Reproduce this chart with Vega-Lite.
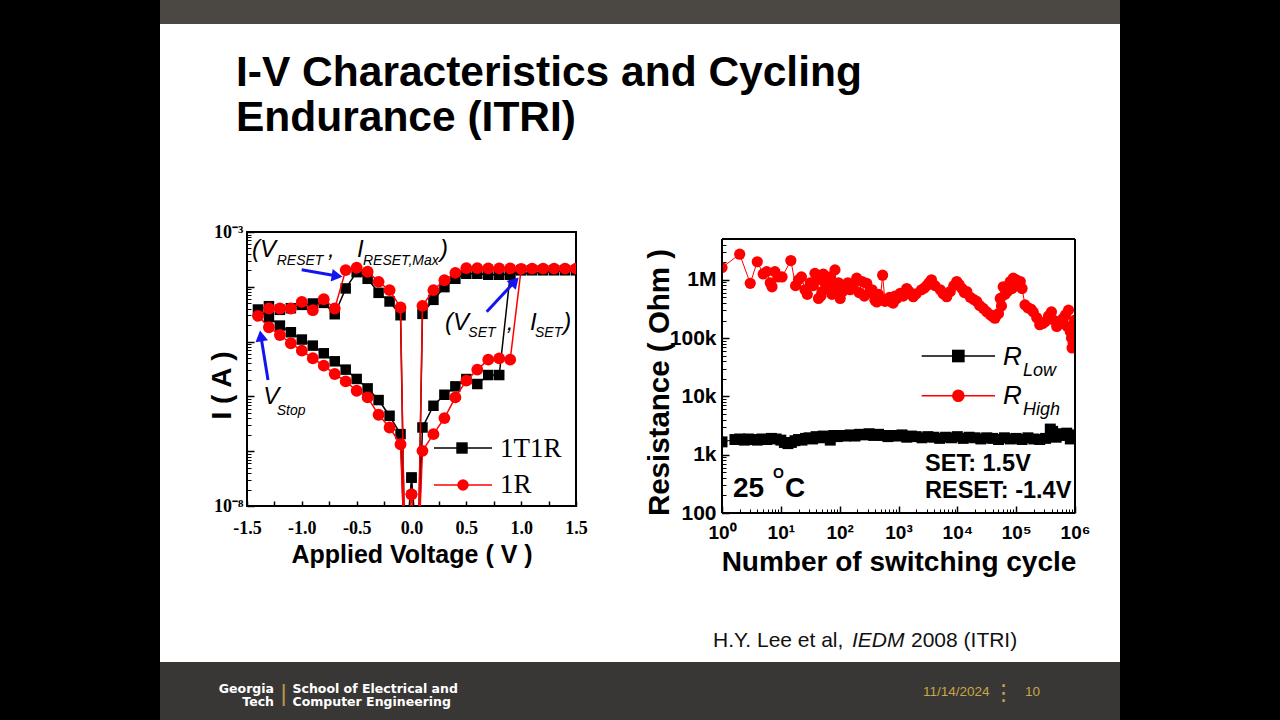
{
  "$schema": "https://vega.github.io/schema/vega-lite/v6.json",
  "padding": 0,
  "background": "#ffffff",
  "columns": 7,
  "align": "each",
  "bounds": "flush",
  "spacing": 0,
  "resolve": {"scale": {"color": "independent", "shape": "independent"}},
  "data": {"values": [{}]},
  "config": {
    "view": {"stroke": null},
    "axis": {"grid": false, "domain": false, "labelColor": "#000000", "titleColor": "#000000", "tickColor": "#000000", "labelFont": "Liberation Sans", "titleFont": "Liberation Sans"},
    "text": {"font": "Liberation Sans"}
  },
  "datasets": {
    "ivT": [
      {"seq": 1, "V": 0, "I": 3.296e-8}, {"seq": 2, "V": 0.06, "I": 1e-9}, {"seq": 3, "V": 0.1, "I": 2.71e-7},
      {"seq": 4, "V": 0.2, "I": 6.745e-7}, {"seq": 5, "V": 0.3, "I": 1.072e-6}, {"seq": 6, "V": 0.4, "I": 1.524e-6},
      {"seq": 7, "V": 0.5, "I": 2.075e-6}, {"seq": 8, "V": 0.6, "I": 1.683e-6}, {"seq": 9, "V": 0.7, "I": 2.455e-6},
      {"seq": 10, "V": 0.8, "I": 2.455e-6}, {"seq": 11, "V": 0.9, "I": 1.66e-4}, {"seq": 12, "V": 1.0, "I": 1.995e-4},
      {"seq": 13, "V": 1.1, "I": 2.0e-4}, {"seq": 14, "V": 1.2, "I": 2.0e-4}, {"seq": 15, "V": 1.3, "I": 2.0e-4},
      {"seq": 16, "V": 1.4, "I": 2.0e-4}, {"seq": 17, "V": 1.5, "I": 2.0e-4},
      {"seq": 18, "V": 0.9, "I": 1.7e-4}, {"seq": 19, "V": 0.8, "I": 1.66e-4}, {"seq": 20, "V": 0.7, "I": 1.66e-4},
      {"seq": 21, "V": 0.6, "I": 1.73e-4}, {"seq": 22, "V": 0.5, "I": 1.73e-4}, {"seq": 23, "V": 0.4, "I": 1.4e-4},
      {"seq": 24, "V": 0.3, "I": 9.86e-5}, {"seq": 25, "V": 0.2, "I": 5.78e-5}, {"seq": 26, "V": 0.1, "I": 3.21e-5},
      {"seq": 27, "V": 0.06, "I": 1e-9}, {"seq": 28, "V": -0.06, "I": 1e-9}, {"seq": 29, "V": -0.1, "I": 3.03e-5},
      {"seq": 30, "V": -0.2, "I": 5.4e-5}, {"seq": 31, "V": -0.3, "I": 7.76e-5}, {"seq": 32, "V": -0.4, "I": 1.4e-4},
      {"seq": 33, "V": -0.5, "I": 1.85e-4}, {"seq": 34, "V": -0.6, "I": 9.33e-5}, {"seq": 35, "V": -0.7, "I": 3.16e-5},
      {"seq": 36, "V": -0.8, "I": 5.09e-5}, {"seq": 37, "V": -0.9, "I": 4.96e-5}, {"seq": 38, "V": -1.0, "I": 4.68e-5},
      {"seq": 39, "V": -1.1, "I": 4.07e-5}, {"seq": 40, "V": -1.2, "I": 3.8e-5}, {"seq": 41, "V": -1.3, "I": 4.43e-5},
      {"seq": 42, "V": -1.4, "I": 3.85e-5}, {"seq": 43, "V": -1.3, "I": 2.79e-5}, {"seq": 44, "V": -1.2, "I": 1.96e-5},
      {"seq": 45, "V": -1.1, "I": 1.48e-5}, {"seq": 46, "V": -1.0, "I": 1.09e-5}, {"seq": 47, "V": -0.9, "I": 8.45e-6},
      {"seq": 48, "V": -0.8, "I": 6.12e-6}, {"seq": 49, "V": -0.7, "I": 4.37e-6}, {"seq": 50, "V": -0.6, "I": 3.08e-6},
      {"seq": 51, "V": -0.5, "I": 2.08e-6}, {"seq": 52, "V": -0.4, "I": 1.4e-6}, {"seq": 53, "V": -0.3, "I": 8.57e-7},
      {"seq": 54, "V": -0.2, "I": 4.43e-7}, {"seq": 55, "V": -0.1, "I": 2.05e-7}, {"seq": 56, "V": -0.06, "I": 1e-9},
      {"seq": 57, "V": 0, "I": 3.296e-8}
    ],
    "ivR": [
      {"seq": 1, "V": 0, "I": 1.633e-8}, {"seq": 2, "V": 0.06, "I": 1e-9}, {"seq": 3, "V": 0.1, "I": 1.014e-7},
      {"seq": 4, "V": 0.2, "I": 2.046e-7}, {"seq": 5, "V": 0.3, "I": 4.018e-7}, {"seq": 6, "V": 0.4, "I": 9.59e-7},
      {"seq": 7, "V": 0.5, "I": 1.936e-6}, {"seq": 8, "V": 0.6, "I": 3.076e-6}, {"seq": 9, "V": 0.7, "I": 4.688e-6},
      {"seq": 10, "V": 0.8, "I": 4.955e-6}, {"seq": 11, "V": 0.9, "I": 4.688e-6}, {"seq": 12, "V": 1.0, "I": 2.13e-4},
      {"seq": 13, "V": 1.1, "I": 2.15e-4}, {"seq": 14, "V": 1.2, "I": 2.15e-4}, {"seq": 15, "V": 1.3, "I": 2.15e-4},
      {"seq": 16, "V": 1.4, "I": 2.15e-4}, {"seq": 17, "V": 1.5, "I": 2.15e-4},
      {"seq": 18, "V": 0.9, "I": 2.17e-4}, {"seq": 19, "V": 0.8, "I": 2.17e-4}, {"seq": 20, "V": 0.7, "I": 2.17e-4},
      {"seq": 21, "V": 0.6, "I": 2.19e-4}, {"seq": 22, "V": 0.5, "I": 2.19e-4}, {"seq": 23, "V": 0.4, "I": 1.8e-4},
      {"seq": 24, "V": 0.3, "I": 1.32e-4}, {"seq": 25, "V": 0.2, "I": 8.69e-5}, {"seq": 26, "V": 0.1, "I": 4.49e-5},
      {"seq": 27, "V": 0.06, "I": 1e-9}, {"seq": 28, "V": -0.06, "I": 1e-9}, {"seq": 29, "V": -0.1, "I": 4.19e-5},
      {"seq": 30, "V": -0.2, "I": 8.69e-5}, {"seq": 31, "V": -0.3, "I": 1.23e-4}, {"seq": 32, "V": -0.4, "I": 1.88e-4},
      {"seq": 33, "V": -0.5, "I": 2.23e-4}, {"seq": 34, "V": -0.6, "I": 2.02e-4}, {"seq": 35, "V": -0.7, "I": 4.02e-5},
      {"seq": 36, "V": -0.8, "I": 5.94e-5}, {"seq": 37, "V": -0.9, "I": 3.74e-5}, {"seq": 38, "V": -1.0, "I": 5.32e-5},
      {"seq": 39, "V": -1.1, "I": 4.02e-5}, {"seq": 40, "V": -1.2, "I": 4.02e-5}, {"seq": 41, "V": -1.3, "I": 4.02e-5},
      {"seq": 42, "V": -1.4, "I": 2.95e-5}, {"seq": 43, "V": -1.3, "I": 1.83e-5}, {"seq": 44, "V": -1.2, "I": 1.32e-5},
      {"seq": 45, "V": -1.1, "I": 9.33e-6}, {"seq": 46, "V": -1.0, "I": 6.84e-6}, {"seq": 47, "V": -0.9, "I": 4.96e-6},
      {"seq": 48, "V": -0.8, "I": 3.64e-6}, {"seq": 49, "V": -0.7, "I": 2.56e-6}, {"seq": 50, "V": -0.6, "I": 1.88e-6},
      {"seq": 51, "V": -0.5, "I": 1.27e-6}, {"seq": 52, "V": -0.4, "I": 9.59e-7}, {"seq": 53, "V": -0.3, "I": 4.62e-7},
      {"seq": 54, "V": -0.2, "I": 2.71e-7}, {"seq": 55, "V": -0.1, "I": 1.34e-7}, {"seq": 56, "V": -0.06, "I": 1e-9},
      {"seq": 57, "V": 0, "I": 1.633e-8}
    ],
    "ivLeg": [
      {"k": "1T1R", "V1": 0.2052, "V2": 0.7341, "Vm": 0.4605, "I": 1.144e-7, "Vt": 0.807, "It": 7.93e-8},
      {"k": "1R", "V1": 0.2052, "V2": 0.7341, "Vm": 0.4696, "I": 2.416e-8, "Vt": 0.807, "It": 1.705e-8}
    ],
    "ivAnnMain": [
      {"t": "(V", "V": -1.4544, "I": 3.499e-4}, {"t": ",", "V": -0.7614, "I": 3.499e-4},
      {"t": "I", "V": -0.497, "I": 3.499e-4}, {"t": ")", "V": 0.2599, "I": 3.499e-4},
      {"t": "(V", "V": 0.3055, "I": 1.628e-5}, {"t": ",", "V": 0.8681, "I": 1.628e-5},
      {"t": "I", "V": 1.0805, "I": 1.628e-5}, {"t": ")", "V": 1.3842, "I": 1.628e-5},
      {"t": "V", "V": -1.3514, "I": 7.165e-7}
    ],
    "ivAnnSub": [
      {"t": "RESET", "V": -1.2292, "I": 2.499e-4}, {"t": "RESET,Max", "V": -0.4423, "I": 2.499e-4},
      {"t": "SET", "V": 0.518, "I": 1.229e-5}, {"t": "SET", "V": 1.1261, "I": 1.229e-5},
      {"t": "Stop", "V": -1.2292, "I": 4.578e-7}
    ],
    "ivArrow": [
      {"id": "reset", "V1": -1.0012, "I1": 2.051e-4, "V2": -0.6784, "I2": 1.575e-4},
      {"id": "set", "V1": 0.6857, "I1": 3.513e-5, "V2": 0.9429, "I2": 1.254e-4},
      {"id": "stop", "V1": -1.3085, "I1": 1.992e-6, "V2": -1.3733, "I2": 1.271e-5}
    ],
    "rHigh": [
      {"c": 1, "r": 1620000}, {"c": 2, "r": 2750000}, {"c": 3.02, "r": 871000}, {"c": 3.98, "r": 2040000},
      {"c": 5.01, "r": 1260000}, {"c": 5.75, "r": 1380000}, {"c": 6.61, "r": 891000}, {"c": 7.08, "r": 759000},
      {"c": 7.94, "r": 1380000}, {"c": 8.91, "r": 1120000}, {"c": 10.5, "r": 1120000}, {"c": 14.8, "r": 2140000},
      {"c": 17.8, "r": 794000}, {"c": 20, "r": 1000000}, {"c": 22.4, "r": 1122000}, {"c": 25.7, "r": 676000},
      {"c": 28.2, "r": 562000}, {"c": 31.6, "r": 891000}, {"c": 35.5, "r": 794000}, {"c": 38, "r": 1290000},
      {"c": 41.7, "r": 1000000}, {"c": 43.7, "r": 479000}, {"c": 47.9, "r": 525000}, {"c": 50.1, "r": 631000},
      {"c": 52.5, "r": 1259000}, {"c": 56.2, "r": 871000}, {"c": 60.3, "r": 708000}, {"c": 69.2, "r": 1120000},
      {"c": 74.1, "r": 562000}, {"c": 79.4, "r": 794000}, {"c": 83.2, "r": 1480000}, {"c": 89.1, "r": 676000},
      {"c": 95.5, "r": 891000}, {"c": 102, "r": 479000}, {"c": 112, "r": 631000}, {"c": 126, "r": 794000},
      {"c": 138, "r": 891000}, {"c": 151, "r": 676000}, {"c": 166, "r": 759000}, {"c": 195, "r": 1070000},
      {"c": 214, "r": 603000}, {"c": 240, "r": 933000}, {"c": 263, "r": 525000}, {"c": 288, "r": 871000},
      {"c": 316, "r": 603000}, {"c": 355, "r": 676000}, {"c": 398, "r": 447000}, {"c": 427, "r": 417000},
      {"c": 457, "r": 562000}, {"c": 490, "r": 479000}, {"c": 537, "r": 1200000}, {"c": 589, "r": 427000},
      {"c": 631, "r": 457000}, {"c": 708, "r": 501000}, {"c": 759, "r": 417000}, {"c": 813, "r": 398000},
      {"c": 871, "r": 525000}, {"c": 933, "r": 479000}, {"c": 1072, "r": 589000}, {"c": 1202, "r": 525000},
      {"c": 1380, "r": 708000}, {"c": 1514, "r": 631000}, {"c": 1778, "r": 513000}, {"c": 1995, "r": 575000},
      {"c": 2455, "r": 676000}, {"c": 2754, "r": 724000}, {"c": 3020, "r": 794000}, {"c": 3311, "r": 891000},
      {"c": 3631, "r": 1000000}, {"c": 4169, "r": 794000}, {"c": 5129, "r": 676000}, {"c": 5754, "r": 575000},
      {"c": 6607, "r": 513000}, {"c": 7586, "r": 631000}, {"c": 8710, "r": 794000}, {"c": 9772, "r": 933000},
      {"c": 10720, "r": 832000}, {"c": 12020, "r": 708000}, {"c": 13180, "r": 603000}, {"c": 14450, "r": 631000},
      {"c": 16600, "r": 501000}, {"c": 19050, "r": 457000}, {"c": 21380, "r": 427000}, {"c": 23990, "r": 363000},
      {"c": 27540, "r": 324000}, {"c": 31620, "r": 282000}, {"c": 36310, "r": 251000}, {"c": 39810, "r": 234000},
      {"c": 43650, "r": 219000}, {"c": 46770, "r": 251000}, {"c": 50120, "r": 263000}, {"c": 53700, "r": 479000},
      {"c": 56230, "r": 355000}, {"c": 60260, "r": 759000}, {"c": 64570, "r": 562000}, {"c": 70790, "r": 631000},
      {"c": 75860, "r": 832000}, {"c": 79430, "r": 933000}, {"c": 85110, "r": 708000}, {"c": 89130, "r": 1070000},
      {"c": 100000, "r": 1000000}, {"c": 117500, "r": 933000}, {"c": 125900, "r": 708000}, {"c": 141300, "r": 372000},
      {"c": 158500, "r": 331000}, {"c": 177800, "r": 316000}, {"c": 195000, "r": 282000}, {"c": 223900, "r": 224000},
      {"c": 251200, "r": 170000}, {"c": 281800, "r": 178000}, {"c": 309000, "r": 191000}, {"c": 354800, "r": 240000},
      {"c": 398100, "r": 282000}, {"c": 446700, "r": 200000}, {"c": 489800, "r": 158000}, {"c": 562300, "r": 178000},
      {"c": 631000, "r": 219000}, {"c": 691800, "r": 251000}, {"c": 741300, "r": 158000}, {"c": 776200, "r": 302000},
      {"c": 831800, "r": 129000}, {"c": 871000, "r": 100000}, {"c": 891300, "r": 67600}, {"c": 933300, "r": 81300},
      {"c": 955000, "r": 158000}, {"c": 1000000, "r": 204000}
    ],
    "rLow": [
      {"c": 1, "r": 1660}, {"c": 1.66, "r": 1820}, {"c": 2.0, "r": 1862}, {"c": 2.4, "r": 1778}, {"c": 2.82, "r": 1862},
      {"c": 3.31, "r": 1820}, {"c": 3.98, "r": 1778}, {"c": 4.79, "r": 1862}, {"c": 5.75, "r": 1820}, {"c": 6.92, "r": 1905},
      {"c": 8.32, "r": 1862}, {"c": 10, "r": 1778}, {"c": 11.5, "r": 1622}, {"c": 13.2, "r": 1549}, {"c": 15.1, "r": 1622},
      {"c": 17.4, "r": 1738}, {"c": 20, "r": 1820}, {"c": 22.9, "r": 1778}, {"c": 26.3, "r": 1905}, {"c": 30.2, "r": 1950},
      {"c": 34.7, "r": 1862}, {"c": 39.8, "r": 2042}, {"c": 45.7, "r": 1950}, {"c": 52.5, "r": 2089}, {"c": 60.3, "r": 1995},
      {"c": 69.2, "r": 1778}, {"c": 79.4, "r": 2138}, {"c": 91.2, "r": 2042}, {"c": 105, "r": 2138}, {"c": 126, "r": 2089},
      {"c": 151, "r": 2188}, {"c": 182, "r": 2089}, {"c": 219, "r": 2239}, {"c": 263, "r": 2188}, {"c": 316, "r": 2291},
      {"c": 380, "r": 2138}, {"c": 457, "r": 2239}, {"c": 550, "r": 2138}, {"c": 661, "r": 2042}, {"c": 794, "r": 2138},
      {"c": 955, "r": 2089}, {"c": 1148, "r": 2188}, {"c": 1380, "r": 1995}, {"c": 1660, "r": 2089}, {"c": 1995, "r": 2042},
      {"c": 2512, "r": 1950}, {"c": 3162, "r": 2042}, {"c": 3981, "r": 1995}, {"c": 5012, "r": 1905}, {"c": 6310, "r": 1995},
      {"c": 7943, "r": 1950}, {"c": 10000, "r": 2042}, {"c": 12590, "r": 1905}, {"c": 15850, "r": 1995}, {"c": 19950, "r": 1950},
      {"c": 25120, "r": 1862}, {"c": 31620, "r": 1950}, {"c": 39810, "r": 1905}, {"c": 50120, "r": 1820}, {"c": 63100, "r": 1950},
      {"c": 79430, "r": 1862}, {"c": 100000, "r": 1905}, {"c": 125900, "r": 1820}, {"c": 158500, "r": 1950}, {"c": 199500, "r": 1862},
      {"c": 251200, "r": 1820}, {"c": 316200, "r": 1905}, {"c": 380200, "r": 2754}, {"c": 416900, "r": 2512}, {"c": 478600, "r": 1995},
      {"c": 549500, "r": 2291}, {"c": 631000, "r": 2138}, {"c": 724400, "r": 2344}, {"c": 831800, "r": 1862}, {"c": 933300, "r": 2188},
      {"c": 1000000, "r": 1995}
    ],
    "rLeg": [
      {"k": "Low", "c1": 2477, "c2": 43750, "cm": 10400, "r": 49320, "ct": 59700, "rt": 34600, "cs": 130900, "rs": 22650},
      {"k": "High", "c1": 2477, "c2": 43750, "cm": 10400, "r": 10280, "ct": 59700, "rt": 7413, "cs": 130900, "rs": 4797}
    ],
    "rAnnBig": [{"t": "25", "c": 1.538, "r": 190.5}, {"t": "C", "c": 11.78, "r": 190.5}],
    "rAnnSup": [{"t": "O", "c": 7.36, "r": 398}],
    "rAnnMid": [{"t": "SET: 1.5V", "c": 2825, "r": 532}, {"t": "RESET: -1.4V", "c": 2825, "r": 178.6}]
  },
  "concat": [
    {"width": 160, "height": 24, "view": {"fill": "#000000", "stroke": null}, "mark": {"type": "point", "opacity": 0}},
    {"width": 87, "height": 24, "view": {"fill": "#4b4743", "stroke": null}, "mark": {"type": "point", "opacity": 0}},
    {"width": 329, "height": 24, "view": {"fill": "#4b4743", "stroke": null}, "mark": {"type": "point", "opacity": 0}},
    {"width": 146, "height": 24, "view": {"fill": "#4b4743", "stroke": null}, "mark": {"type": "point", "opacity": 0}},
    {"width": 353, "height": 24, "view": {"fill": "#4b4743", "stroke": null}, "mark": {"type": "point", "opacity": 0}},
    {"width": 45, "height": 24, "view": {"fill": "#4b4743", "stroke": null}, "mark": {"type": "point", "opacity": 0}},
    {"width": 160, "height": 24, "view": {"fill": "#000000", "stroke": null}, "mark": {"type": "point", "opacity": 0}},

    {"width": 160, "height": 208, "view": {"fill": "#000000", "stroke": null}, "mark": {"type": "point", "opacity": 0}},
    {"width": 87, "height": 208, "mark": {"type": "text", "text": ["I-V Characteristics and Cycling", "Endurance (ITRI)"], "align": "left", "baseline": "alphabetic", "dx": 32.5, "dy": -42, "font": "Liberation Sans", "fontWeight": "bold", "fontSize": 42.5, "lineHeight": 45, "color": "#000000"}},
    {"width": 329, "height": 208, "mark": {"type": "point", "opacity": 0}},
    {"width": 146, "height": 208, "mark": {"type": "point", "opacity": 0}},
    {"width": 353, "height": 208, "mark": {"type": "point", "opacity": 0}},
    {"width": 45, "height": 208, "mark": {"type": "point", "opacity": 0}},
    {"width": 160, "height": 208, "view": {"fill": "#000000", "stroke": null}, "mark": {"type": "point", "opacity": 0}},

    {"width": 160, "height": 281, "view": {"fill": "#000000", "stroke": null}, "mark": {"type": "point", "opacity": 0}},
    {"width": 87, "height": 281, "mark": {"type": "point", "opacity": 0}},
    {
      "width": 329, "height": 274,
      "view": {"stroke": "#000000", "strokeWidth": 2},
      "resolve": {"axis": {"x": "independent", "y": "independent"}},
      "layer": [
        {
          "data": {"name": "ivT"},
          "mark": {"type": "line", "color": "#000000", "strokeWidth": 1.5, "clip": true},
          "encoding": {
            "x": {"field": "V", "type": "quantitative", "scale": {"domain": [-1.5, 1.5], "nice": false, "zero": false},
              "axis": {"orient": "bottom", "values": [-1.5, -1, -0.5, 0, 0.5, 1, 1.5], "labelExpr": "datum.value < 0 ? '-' + format(-datum.value, '.1f') : format(datum.value, '.1f')",
                "ticks": false, "tickSize": 0, "domain": false, "grid": false, "labelFont": "Liberation Serif", "labelFontWeight": "bold", "labelFontSize": 18,
                "labelPadding": 13, "labelFlush": false, "labelOverlap": false,
                "title": "Applied Voltage ( V )", "titleFontSize": 25, "titleFontWeight": "bold", "titleY": 56, "titleBaseline": "alphabetic"}},
            "y": {"field": "I", "type": "quantitative", "scale": {"type": "log", "domain": [1e-8, 0.001], "nice": false},
              "axis": {"orient": "left", "values": [1e-8, 0.001], "labelExpr": "datum.value > 1e-5 ? '10⁻³' : '10⁻⁸'",
                "ticks": false, "tickSize": 0, "domain": false, "grid": false, "labelFont": "Liberation Serif", "labelFontWeight": "bold", "labelFontSize": 18,
                "labelPadding": 4, "labelBaseline": "middle", "labelFlush": false, "labelOverlap": false,
                "title": "I ( A )", "titleFontSize": 28, "titleFontWeight": "bold", "titleX": -17, "titleY": 153, "titleBaseline": "alphabetic", "titleAngle": 270}},
            "order": {"field": "seq", "type": "quantitative"}
          }
        },
        {
          "data": {"name": "ivT"},
          "mark": {"type": "point", "shape": "square", "filled": true, "color": "#000000", "size": 110, "opacity": 1, "clip": true},
          "encoding": {
            "x": {"field": "V", "type": "quantitative",
              "axis": {"orient": "bottom", "values": [-1.5, -1.25, -1, -0.75, -0.5, -0.25, 0, 0.25, 0.5, 0.75, 1, 1.25, 1.5], "labels": false, "domain": false, "grid": false, "ticks": true, "tickSize": -5, "tickWidth": 1.5, "title": null}},
            "y": {"field": "I", "type": "quantitative",
              "axis": {"orient": "left", "values": [1e-8, 1e-7, 1e-6, 1e-5, 0.0001, 0.001], "labels": false, "domain": false, "grid": false, "ticks": true, "tickSize": -7, "tickWidth": 1.5, "title": null}}
          }
        },
        {
          "data": {"name": "ivR"},
          "mark": {"type": "line", "color": "#ff0000", "strokeWidth": 1.5, "clip": true},
          "encoding": {
            "x": {"field": "V", "type": "quantitative", "axis": null},
            "y": {"field": "I", "type": "quantitative",
              "axis": {"orient": "left", "values": [2e-8, 3e-8, 4e-8, 5e-8, 6e-8, 7e-8, 8e-8, 9e-8, 2e-7, 3e-7, 4e-7, 5e-7, 6e-7, 7e-7, 8e-7, 9e-7, 2e-6, 3e-6, 4e-6, 5e-6, 6e-6, 7e-6, 8e-6, 9e-6, 2e-5, 3e-5, 4e-5, 5e-5, 6e-5, 7e-5, 8e-5, 9e-5, 0.0002, 0.0003, 0.0004, 0.0005, 0.0006, 0.0007, 0.0008, 0.0009],
                "labels": false, "domain": false, "grid": false, "ticks": true, "tickSize": -4, "tickWidth": 1, "title": null}},
            "order": {"field": "seq", "type": "quantitative"}
          }
        },
        {
          "data": {"name": "ivR"},
          "mark": {"type": "point", "shape": "circle", "filled": true, "color": "#ff0000", "size": 140, "opacity": 1, "clip": true},
          "encoding": {
            "x": {"field": "V", "type": "quantitative", "axis": null},
            "y": {"field": "I", "type": "quantitative", "axis": null}
          }
        },
        {
          "data": {"name": "ivLeg"},
          "mark": {"type": "rule", "strokeWidth": 1.5},
          "encoding": {
            "x": {"field": "V1", "type": "quantitative", "axis": null},
            "x2": {"field": "V2"},
            "y": {"field": "I", "type": "quantitative", "axis": null},
            "color": {"field": "k", "type": "nominal", "scale": {"domain": ["1T1R", "1R"], "range": ["#000000", "#ff0000"]}, "legend": null}
          }
        },
        {
          "data": {"name": "ivLeg"},
          "mark": {"type": "point", "filled": true, "opacity": 1, "size": 130},
          "encoding": {
            "x": {"field": "Vm", "type": "quantitative", "axis": null},
            "y": {"field": "I", "type": "quantitative", "axis": null},
            "color": {"field": "k", "type": "nominal", "scale": {"domain": ["1T1R", "1R"], "range": ["#000000", "#ff0000"]}, "legend": null},
            "shape": {"field": "k", "type": "nominal", "scale": {"domain": ["1T1R", "1R"], "range": ["square", "circle"]}, "legend": null}
          }
        },
        {
          "data": {"name": "ivLeg"},
          "mark": {"type": "text", "align": "left", "baseline": "alphabetic", "font": "Liberation Serif", "fontSize": 27, "color": "#000000"},
          "encoding": {
            "x": {"field": "Vt", "type": "quantitative", "axis": null},
            "y": {"field": "It", "type": "quantitative", "axis": null},
            "text": {"field": "k"}
          }
        },
        {
          "data": {"name": "ivAnnMain"},
          "mark": {"type": "text", "align": "left", "baseline": "alphabetic", "font": "Liberation Sans", "fontStyle": "italic", "fontSize": 24, "color": "#000000"},
          "encoding": {
            "x": {"field": "V", "type": "quantitative", "axis": null},
            "y": {"field": "I", "type": "quantitative", "axis": null},
            "text": {"field": "t"}
          }
        },
        {
          "data": {"name": "ivAnnSub"},
          "mark": {"type": "text", "align": "left", "baseline": "alphabetic", "font": "Liberation Sans", "fontStyle": "italic", "fontSize": 14, "color": "#000000"},
          "encoding": {
            "x": {"field": "V", "type": "quantitative", "axis": null},
            "y": {"field": "I", "type": "quantitative", "axis": null},
            "text": {"field": "t"}
          }
        },
        {
          "data": {"name": "ivArrow"},
          "mark": {"type": "rule", "color": "#1414f0", "strokeWidth": 3},
          "encoding": {
            "x": {"field": "V1", "type": "quantitative", "axis": null},
            "y": {"field": "I1", "type": "quantitative", "axis": null},
            "x2": {"field": "V2"},
            "y2": {"field": "I2"}
          }
        },
        {
          "data": {"name": "ivArrow"},
          "transform": [{"filter": "datum.id == 'reset'"}],
          "mark": {"type": "point", "shape": "triangle-up", "filled": true, "color": "#1414f0", "size": 160, "opacity": 1, "angle": 99},
          "encoding": {
            "x": {"field": "V2", "type": "quantitative", "axis": null},
            "y": {"field": "I2", "type": "quantitative", "axis": null}
          }
        },
        {
          "data": {"name": "ivArrow"},
          "transform": [{"filter": "datum.id == 'set'"}],
          "mark": {"type": "point", "shape": "triangle-up", "filled": true, "color": "#1414f0", "size": 160, "opacity": 1, "angle": 43},
          "encoding": {
            "x": {"field": "V2", "type": "quantitative", "axis": null},
            "y": {"field": "I2", "type": "quantitative", "axis": null}
          }
        },
        {
          "data": {"name": "ivArrow"},
          "transform": [{"filter": "datum.id == 'stop'"}],
          "mark": {"type": "point", "shape": "triangle-up", "filled": true, "color": "#1414f0", "size": 160, "opacity": 1, "angle": 351},
          "encoding": {
            "x": {"field": "V2", "type": "quantitative", "axis": null},
            "y": {"field": "I2", "type": "quantitative", "axis": null}
          }
        }
      ]
    },
    {"width": 146, "height": 281, "mark": {"type": "point", "opacity": 0}},
    {
      "width": 353, "height": 281,
      "view": {"stroke": null},
      "resolve": {"axis": {"x": "independent", "y": "independent"}},
      "layer": [
        {
          "data": {"name": "rLow"},
          "mark": {"type": "line", "color": "#000000", "strokeWidth": 1, "clip": true},
          "encoding": {
            "x": {"field": "c", "type": "quantitative", "scale": {"type": "log", "domain": [1, 1000000], "nice": false},
              "axis": {"orient": "bottom", "values": [1, 10, 100, 1000, 10000, 100000, 1000000], "labelExpr": "'10' + ['⁰','¹','²','³','⁴','⁵','⁶'][round(log(datum.value) / LN10)]",
                "ticks": false, "tickSize": 0, "domain": false, "grid": false, "labelFontWeight": "bold", "labelFontSize": 19, "labelPadding": 10, "labelFlush": false, "labelOverlap": false,
                "title": "Number of switching cycle", "titleFontSize": 28, "titleFontWeight": "bold", "titleY": 57, "titleBaseline": "alphabetic"}},
            "y": {"field": "r", "type": "quantitative", "scale": {"type": "log", "domain": [100, 6610000], "nice": false},
              "axis": {"orient": "left", "values": [100, 1000, 10000, 100000, 1000000], "labelExpr": "datum.value >= 1e6 ? '1M' : (datum.value >= 1000 ? round(datum.value / 1000) + 'k' : '100')",
                "ticks": false, "tickSize": 0, "domain": false, "grid": false, "labelFontWeight": "bold", "labelFontSize": 21, "labelPadding": 6, "labelBaseline": "middle", "labelFlush": false, "labelOverlap": false,
                "title": "Resistance ( Ohm )", "titleFontSize": 29.5, "titleFontWeight": "bold", "titleX": -54, "titleY": 150, "titleBaseline": "alphabetic", "titleAngle": 270}}
          }
        },
        {
          "data": {"name": "rLow"},
          "mark": {"type": "point", "shape": "square", "filled": true, "color": "#000000", "size": 120, "opacity": 1, "clip": true},
          "encoding": {
            "x": {"field": "c", "type": "quantitative",
              "axis": {"orient": "bottom", "values": [1, 10, 100, 1000, 10000, 100000, 1000000], "labels": false, "domain": false, "grid": false, "ticks": true, "tickSize": -7, "tickWidth": 1.5, "title": null}},
            "y": {"field": "r", "type": "quantitative",
              "axis": {"orient": "left", "values": [100, 1000, 10000, 100000, 1000000], "labels": false, "domain": false, "grid": false, "ticks": true, "tickSize": -7, "tickWidth": 1.5, "title": null}}
          }
        },
        {
          "data": {"name": "rHigh"},
          "mark": {"type": "line", "color": "#ff0000", "strokeWidth": 1, "clip": true},
          "encoding": {
            "x": {"field": "c", "type": "quantitative",
              "axis": {"orient": "bottom", "values": [2, 3, 4, 5, 6, 7, 8, 9, 20, 30, 40, 50, 60, 70, 80, 90, 200, 300, 400, 500, 600, 700, 800, 900, 2000, 3000, 4000, 5000, 6000, 7000, 8000, 9000, 20000, 30000, 40000, 50000, 60000, 70000, 80000, 90000, 200000, 300000, 400000, 500000, 600000, 700000, 800000, 900000],
                "labels": false, "domain": false, "grid": false, "ticks": true, "tickSize": -4, "tickWidth": 1, "title": null}},
            "y": {"field": "r", "type": "quantitative",
              "axis": {"orient": "left", "values": [200, 300, 400, 500, 600, 700, 800, 900, 2000, 3000, 4000, 5000, 6000, 7000, 8000, 9000, 20000, 30000, 40000, 50000, 60000, 70000, 80000, 90000, 200000, 300000, 400000, 500000, 600000, 700000, 800000, 900000, 2000000, 3000000, 4000000],
                "labels": false, "domain": false, "grid": false, "ticks": true, "tickSize": -4, "tickWidth": 1, "title": null}}
          }
        },
        {
          "data": {"name": "rHigh"},
          "mark": {"type": "point", "shape": "circle", "filled": true, "color": "#ff0000", "size": 125, "opacity": 1, "clip": true},
          "encoding": {
            "x": {"field": "c", "type": "quantitative", "axis": null},
            "y": {"field": "r", "type": "quantitative", "axis": null}
          }
        },
        {
          "data": {"name": "rLeg"},
          "mark": {"type": "rule", "strokeWidth": 1.5},
          "encoding": {
            "x": {"field": "c1", "type": "quantitative", "axis": null},
            "x2": {"field": "c2"},
            "y": {"field": "r", "type": "quantitative", "axis": null},
            "color": {"field": "k", "type": "nominal", "scale": {"domain": ["Low", "High"], "range": ["#000000", "#ff0000"]}, "legend": null}
          }
        },
        {
          "data": {"name": "rLeg"},
          "mark": {"type": "point", "filled": true, "opacity": 1, "size": 160},
          "encoding": {
            "x": {"field": "cm", "type": "quantitative", "axis": null},
            "y": {"field": "r", "type": "quantitative", "axis": null},
            "color": {"field": "k", "type": "nominal", "scale": {"domain": ["Low", "High"], "range": ["#000000", "#ff0000"]}, "legend": null},
            "shape": {"field": "k", "type": "nominal", "scale": {"domain": ["Low", "High"], "range": ["square", "circle"]}, "legend": null}
          }
        },
        {
          "data": {"name": "rLeg"},
          "mark": {"type": "text", "text": "R", "align": "left", "baseline": "alphabetic", "fontStyle": "italic", "fontSize": 26, "color": "#000000"},
          "encoding": {
            "x": {"field": "ct", "type": "quantitative", "axis": null},
            "y": {"field": "rt", "type": "quantitative", "axis": null}
          }
        },
        {
          "data": {"name": "rLeg"},
          "mark": {"type": "text", "align": "left", "baseline": "alphabetic", "fontStyle": "italic", "fontSize": 18, "color": "#000000"},
          "encoding": {
            "x": {"field": "cs", "type": "quantitative", "axis": null},
            "y": {"field": "rs", "type": "quantitative", "axis": null},
            "text": {"field": "k"}
          }
        },
        {
          "data": {"name": "rAnnBig"},
          "mark": {"type": "text", "align": "left", "baseline": "alphabetic", "fontWeight": "bold", "fontSize": 28, "color": "#000000"},
          "encoding": {
            "x": {"field": "c", "type": "quantitative", "axis": null},
            "y": {"field": "r", "type": "quantitative", "axis": null},
            "text": {"field": "t"}
          }
        },
        {
          "data": {"name": "rAnnSup"},
          "mark": {"type": "text", "align": "left", "baseline": "alphabetic", "fontWeight": "bold", "fontSize": 14, "color": "#000000"},
          "encoding": {
            "x": {"field": "c", "type": "quantitative", "axis": null},
            "y": {"field": "r", "type": "quantitative", "axis": null},
            "text": {"field": "t"}
          }
        },
        {
          "data": {"name": "rAnnMid"},
          "mark": {"type": "text", "align": "left", "baseline": "alphabetic", "fontWeight": "bold", "fontSize": 23.5, "color": "#000000"},
          "encoding": {
            "x": {"field": "c", "type": "quantitative", "axis": null},
            "y": {"field": "r", "type": "quantitative", "axis": null},
            "text": {"field": "t"}
          }
        },
        {
          "mark": {"type": "rule", "color": "#000000", "strokeWidth": 2},
          "encoding": {"y": {"datum": 5000000, "type": "quantitative", "axis": null}}
        },
        {
          "mark": {"type": "rule", "color": "#000000", "strokeWidth": 2},
          "encoding": {"y": {"datum": 100, "type": "quantitative", "axis": null}}
        },
        {
          "mark": {"type": "rule", "color": "#000000", "strokeWidth": 2},
          "encoding": {
            "x": {"datum": 1, "type": "quantitative", "axis": null},
            "y": {"datum": 100, "type": "quantitative", "axis": null},
            "y2": {"datum": 5000000}
          }
        },
        {
          "mark": {"type": "rule", "color": "#000000", "strokeWidth": 2},
          "encoding": {
            "x": {"datum": 1000000, "type": "quantitative", "axis": null},
            "y": {"datum": 100, "type": "quantitative", "axis": null},
            "y2": {"datum": 5000000}
          }
        }
      ]
    },
    {"width": 45, "height": 281, "mark": {"type": "point", "opacity": 0}},
    {"width": 160, "height": 281, "view": {"fill": "#000000", "stroke": null}, "mark": {"type": "point", "opacity": 0}},

    {"width": 160, "height": 149, "view": {"fill": "#000000", "stroke": null}, "mark": {"type": "point", "opacity": 0}},
    {"width": 87, "height": 149, "mark": {"type": "point", "opacity": 0}},
    {"width": 329, "height": 149, "mark": {"type": "point", "opacity": 0}},
    {"width": 146, "height": 149, "mark": {"type": "point", "opacity": 0}},
    {"width": 353, "height": 149, "layer": [
      {"mark": {"type": "text", "text": "H.Y. Lee et al,", "align": "left", "baseline": "alphabetic", "dx": -185.5, "dy": 59.5, "font": "Liberation Sans", "fontSize": 21, "color": "#111111"}},
      {"mark": {"type": "text", "text": "IEDM", "align": "left", "baseline": "alphabetic", "dx": -46.5, "dy": 59.5, "font": "Liberation Sans", "fontStyle": "italic", "fontSize": 21, "color": "#111111"}},
      {"mark": {"type": "text", "text": "2008 (ITRI)", "align": "left", "baseline": "alphabetic", "dx": 12.5, "dy": 59.5, "font": "Liberation Sans", "fontSize": 21, "color": "#111111"}}
    ]},
    {"width": 45, "height": 149, "mark": {"type": "point", "opacity": 0}},
    {"width": 160, "height": 149, "view": {"fill": "#000000", "stroke": null}, "mark": {"type": "point", "opacity": 0}},

    {"width": 160, "height": 58, "view": {"fill": "#000000", "stroke": null}, "mark": {"type": "point", "opacity": 0}},
    {"width": 87, "height": 58, "view": {"fill": "#393735", "stroke": null}, "mark": {"type": "point", "opacity": 0}},
    {"width": 329, "height": 58, "view": {"fill": "#393735", "stroke": null}, "mark": {"type": "point", "opacity": 0}},
    {"width": 146, "height": 58, "view": {"fill": "#393735", "stroke": null}, "mark": {"type": "point", "opacity": 0}},
    {"width": 353, "height": 58, "view": {"fill": "#393735", "stroke": null}, "mark": {"type": "point", "opacity": 0}},
    {"width": 45, "height": 58, "view": {"fill": "#393735", "stroke": null}, "layer": [
      {"mark": {"type": "text", "text": ["Georgia", "Tech"], "align": "right", "baseline": "alphabetic", "dx": -823.5, "dy": 2, "lineHeight": 13, "font": "DejaVu Sans", "fontWeight": "bold", "fontSize": 12.5, "color": "#ffffff"}},
      {"mark": {"type": "text", "text": "|", "align": "center", "baseline": "alphabetic", "dx": -814, "dy": 10, "font": "Liberation Sans", "fontSize": 24, "color": "#b5964a"}},
      {"mark": {"type": "text", "text": ["School of Electrical and", "Computer Engineering"], "align": "left", "baseline": "alphabetic", "dx": -805, "dy": 2, "lineHeight": 13, "font": "DejaVu Sans", "fontWeight": "bold", "fontSize": 12.5, "color": "#ffffff"}},
      {"mark": {"type": "text", "text": "11/14/2024", "align": "left", "baseline": "alphabetic", "dx": -174.5, "dy": 5, "font": "Liberation Sans", "fontSize": 13.5, "color": "#c9a646"}},
      {"mark": {"type": "text", "text": "⋮", "align": "center", "baseline": "middle", "dx": -94, "dy": 2, "font": "DejaVu Sans", "fontSize": 22, "color": "#c9a646"}},
      {"mark": {"type": "text", "text": "10", "align": "left", "baseline": "alphabetic", "dx": -72.5, "dy": 5, "font": "Liberation Sans", "fontSize": 13.5, "color": "#c9a646"}}
    ]},
    {"width": 160, "height": 58, "view": {"fill": "#000000", "stroke": null}, "mark": {"type": "point", "opacity": 0}}
  ]
}
